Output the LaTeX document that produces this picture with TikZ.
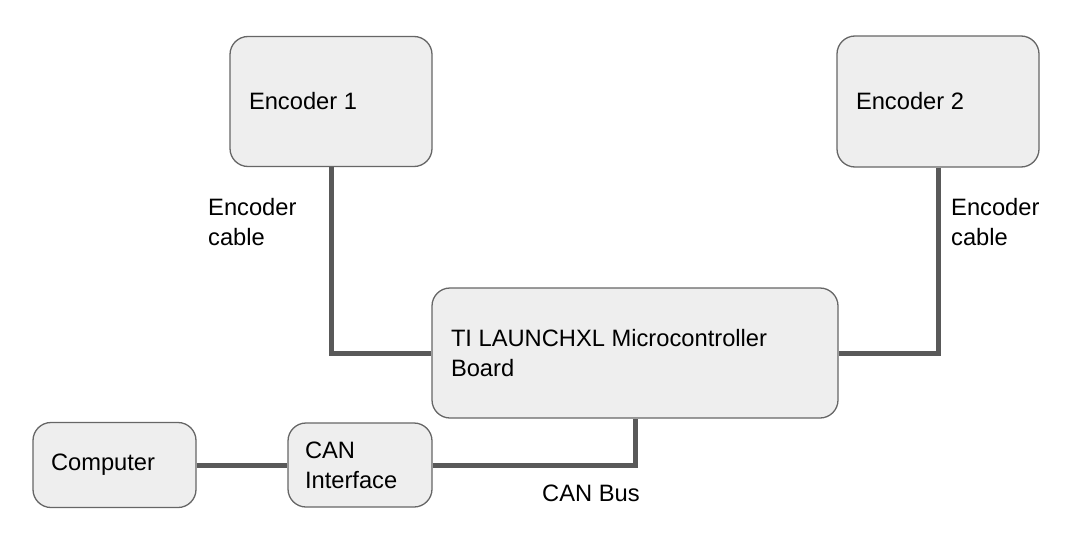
\documentclass[tikz,border=0pt]{standalone}
\usepackage{fontspec}
\setmainfont{Liberation Sans}
\definecolor{boxfill}{HTML}{EEEEEE}
\definecolor{boxline}{HTML}{666666}
\definecolor{connline}{HTML}{595959}
\begin{document}
\begin{tikzpicture}[x=1pt,y=-1pt,
  font=\fontsize{23.7}{30}\selectfont,
  blk/.style 2 args={draw=boxline, fill=boxfill, line width=1.3pt, rounded corners=18pt,
    minimum width=#1, minimum height=#2, text width=#1-38pt, inner xsep=19pt, inner ysep=0pt, align=flush left},
  conn/.style={draw=connline, line width=5pt},
  lbl/.style={inner sep=0pt, align=flush left, anchor=west}]
\useasboundingbox (0,0) rectangle (1073,538);
\node[blk={202pt}{130pt}] (enc1) at (331,101.5) {Encoder 1};
\node[blk={202pt}{131pt}] (enc2) at (938,101.5) {Encoder 2};
\node[blk={406pt}{130pt}] (ti) at (635,353) {TI LAUNCHXL Microcontroller\\Board};
\node[blk={163pt}{85pt}, inner xsep=18pt, text width=127pt] (comp) at (114.5,465) {Computer};
\node[blk={144pt}{84pt}, inner xsep=17pt, text width=110pt] (can) at (360,465) {CAN\\Interface};
\draw[conn] (enc1.south) |- (ti.west);
\draw[conn] (enc2.south) |- (ti.east);
\draw[conn] (comp.east) -- (can.west);
\draw[conn] (can.east) -| (ti.south);
\node[lbl] (l1) at (208,222) {Encoder\\cable};
\node[lbl] (l2) at (951,222) {Encoder\\cable};
\node[lbl] (l3) at (542,493) {CAN Bus};
\end{tikzpicture}
\end{document}
